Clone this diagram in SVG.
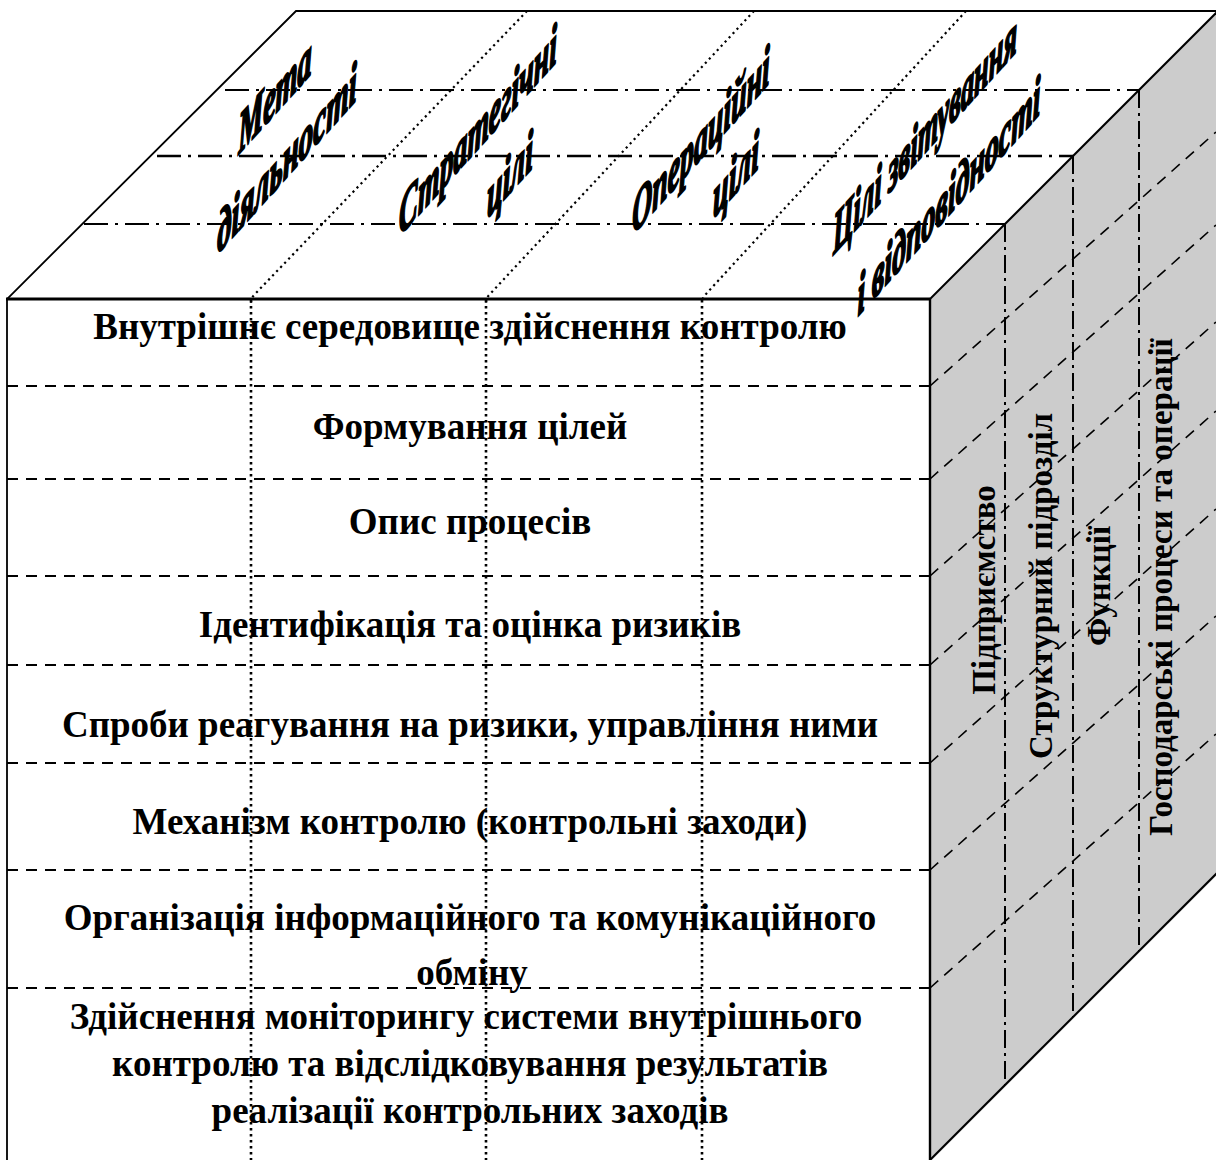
<svg xmlns="http://www.w3.org/2000/svg" width="1216" height="1160" viewBox="0 0 1216 1160">
  <style>
    .edge { fill: none; stroke: #000; stroke-width: 2; stroke-linejoin: miter; }
    .dash { fill: none; stroke: #000; stroke-width: 2; stroke-dasharray: 11 8; }
    .diag { fill: none; stroke: #000; stroke-width: 1.6; stroke-dasharray: 11 8; }
    .dot { fill: none; stroke: #000; stroke-width: 2.6; stroke-dasharray: 2.6 3.4; }
    .dott { fill: none; stroke: #000; stroke-width: 2.2; stroke-dasharray: 2.2 3.6; }
    .dd { fill: none; stroke: #000; stroke-width: 2; stroke-dasharray: 24 7 3 7; }
    .ddv { fill: none; stroke: #000; stroke-width: 2; stroke-dasharray: 18 5 3 5; }
    .ft { font-family: "Liberation Serif", "Times New Roman", serif; font-weight: bold; font-size: 37px; text-anchor: middle; fill: #000; }
    .st { font-family: "Liberation Serif", "Times New Roman", serif; font-weight: bold; font-size: 33px; text-anchor: middle; fill: #000; }
    .tl { font-family: "Liberation Serif", "Times New Roman", serif; font-weight: bold; font-style: italic; font-size: 58px; text-anchor: middle; fill: #000; stroke: #000; stroke-width: 2.6; stroke-linejoin: round; }
  </style>

  <g id="faces">
    <polygon id="top-face" points="7,299 296,11 1218,11 930,299" fill="#ffffff"/>
    <polygon id="right-face" points="930,299 1218,11 1218,1160 930,1160" fill="#cccccc"/>
    <polygon points="930,1162 1218,874 1218,1162" fill="#ffffff"/>
    <rect id="front-face" x="7" y="299" width="923" height="870" fill="#ffffff"/>
  </g>

  <g id="grid">
    <line class="dd" x1="225" y1="90" x2="1139" y2="90"/>
    <line class="dd" x1="157" y1="156" x2="1073" y2="156" style="stroke-width:2.6"/>
    <line class="dd" x1="84" y1="224" x2="1005" y2="224"/>
    <line class="ddv" x1="1139" y1="90" x2="1139" y2="951"/>
    <line class="ddv" x1="1073" y1="156" x2="1073" y2="1017"/>
    <line class="ddv" x1="1005" y1="224" x2="1005" y2="1085"/>
    <path class="dott" d="M527,11 L255,294 Q251,298 251,303"/>
    <path class="dott" d="M754,11 L490,294 Q486,298 486,303"/>
    <path class="dott" d="M966,11 L706,294 Q702,298 702,303"/>
    <line class="dot" x1="251" y1="300" x2="251" y2="1160"/>
    <line class="dot" x1="486" y1="300" x2="486" y2="1160"/>
    <line class="dot" x1="702" y1="300" x2="702" y2="1160"/>
    <line class="dash" x1="7" y1="386" x2="930" y2="386"/>
    <line class="dash" x1="7" y1="479" x2="930" y2="479"/>
    <line class="dash" x1="7" y1="576" x2="930" y2="576"/>
    <line class="dash" x1="7" y1="665" x2="930" y2="665"/>
    <line class="dash" x1="7" y1="763" x2="930" y2="763"/>
    <line class="dash" x1="7" y1="870" x2="930" y2="870"/>
    <line class="dash" x1="7" y1="988" x2="930" y2="988"/>
    <line class="diag" x1="930" y1="386" x2="1216" y2="132"/>
    <line class="diag" x1="930" y1="479" x2="1216" y2="225"/>
    <line class="diag" x1="930" y1="576" x2="1216" y2="322"/>
    <line class="diag" x1="930" y1="665" x2="1216" y2="411"/>
    <line class="diag" x1="930" y1="763" x2="1216" y2="509"/>
    <line class="diag" x1="930" y1="870" x2="1216" y2="616"/>
    <line class="diag" x1="930" y1="988" x2="1216" y2="734"/>
  </g>

  <g id="outline">
    <polyline class="edge" points="7,1162 7,299 296,11 1218,11" style="stroke-width:1.8"/>
    <line class="edge" x1="6" y1="299" x2="930" y2="299" style="stroke-width:3"/>
    <line class="edge" x1="930" y1="299" x2="1218" y2="11"/>
    <line class="edge" x1="930" y1="299" x2="930" y2="1162" style="stroke-width:2.4"/>
    <line class="edge" x1="930" y1="1160" x2="1218" y2="872"/>
  </g>

  <g id="top-labels">
    <g id="label-meta">
      <text class="tl" transform="translate(275,114) skewY(-48) scale(0.49,1)">Мета</text>
      <text class="tl" transform="translate(287,177) skewY(-48) scale(0.5,1)">діяльності</text>
    </g>
    <g id="label-strategic">
      <text class="tl" transform="translate(478,149) skewY(-48) scale(0.48,1)">Стратегічні</text>
      <text class="tl" transform="translate(510,193) skewY(-48) scale(0.49,1)">цілі</text>
    </g>
    <g id="label-operational">
      <text class="tl" transform="translate(701,159) skewY(-48) scale(0.48,1)">Операційні</text>
      <text class="tl" transform="translate(736,193) skewY(-48) scale(0.49,1)">цілі</text>
    </g>
    <g id="label-reporting">
      <text class="tl" transform="translate(925,153) skewY(-48) scale(0.455,1)">Цілі звітування</text>
      <text class="tl" transform="translate(949,215) skewY(-48) scale(0.48,1)">і відповідності</text>
    </g>
  </g>

  <g id="front-rows">
    <g id="row-1"><text class="ft" x="470" y="339">Внутрішнє середовище здійснення контролю</text></g>
    <g id="row-2"><text class="ft" x="470" y="439">Формування цілей</text></g>
    <g id="row-3"><text class="ft" x="470" y="534">Опис процесів</text></g>
    <g id="row-4"><text class="ft" x="470" y="637">Ідентифікація та оцінка ризиків</text></g>
    <g id="row-5"><text class="ft" x="470" y="737">Спроби реагування на ризики, управління ними</text></g>
    <g id="row-6"><text class="ft" x="470" y="834">Механізм контролю (контрольні заходи)</text></g>
    <g id="row-7">
      <text class="ft" x="470" y="930">Організація інформаційного та комунікаційного</text>
      <text class="ft" x="472" y="985">обміну</text>
    </g>
    <g id="row-8">
      <text class="ft" x="466" y="1029">Здійснення моніторингу системи внутрішнього</text>
      <text class="ft" x="470" y="1076">контролю та відслідковування результатів</text>
      <text class="ft" x="470" y="1123">реалізації контрольних заходів</text>
    </g>
  </g>

  <g id="side-labels">
    <g id="side-1"><text class="st" transform="translate(995,590) rotate(-90)">Підприємство</text></g>
    <g id="side-2"><text class="st" transform="translate(1052,586) rotate(-90)">Структурний підрозділ</text></g>
    <g id="side-3"><text class="st" transform="translate(1110,586) rotate(-90)">Функції</text></g>
    <g id="side-4"><text class="st" transform="translate(1172,587) rotate(-90)">Господарські процеси та операції</text></g>
  </g>
</svg>
